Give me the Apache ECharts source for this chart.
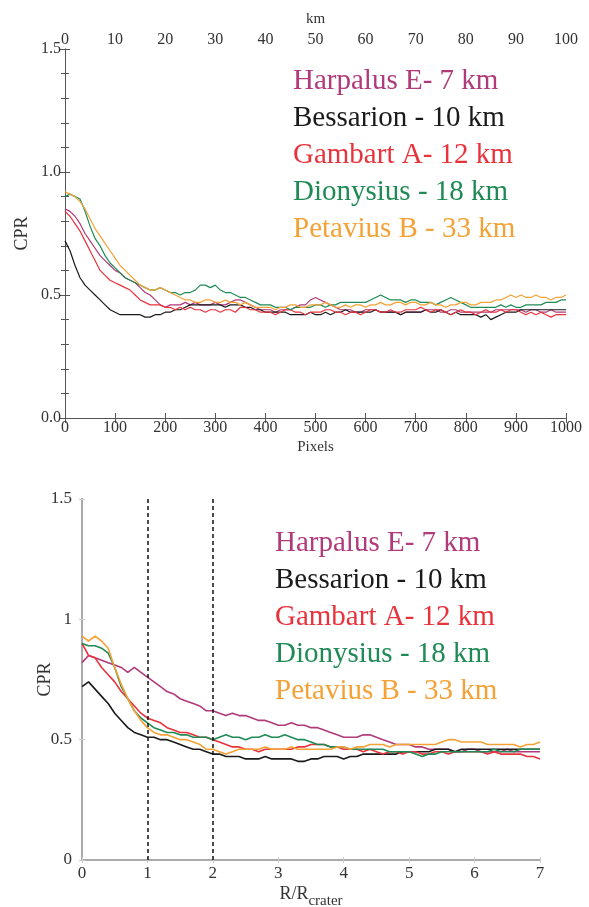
<!DOCTYPE html>
<html>
<head>
<meta charset="utf-8">
<script src="https://cdn.jsdelivr.net/npm/echarts@6/dist/echarts.min.js"></script>
<style>
  html, body { margin: 0; padding: 0; background: #fff; }
  #main { width: 589px; height: 907px; }
</style>
</head>
<body>
<div id="main"></div>
<script>
var craterNames = ['Harpalus E- 7 km', 'Bessarion - 10 km', 'Gambart A- 12 km', 'Dionysius - 18 km', 'Petavius B - 33 km'];
var craterColors = ['#b03a7a', '#1a1a1a', '#e8333c', '#1f8a55', '#f4a236'];

// top panel: distance in pixels
var pixelX = [0, 10, 20, 30, 40, 50, 60, 70, 80, 90,
  100, 110, 120, 130, 140, 150, 160, 170, 180, 190,
  200, 210, 220, 230, 240, 250, 260, 270, 280, 290,
  300, 310, 320, 330, 340, 350, 360, 370, 380, 390,
  400, 410, 420, 430, 440, 450, 460, 470, 480, 490,
  500, 510, 520, 530, 540, 550, 560, 570, 580, 590,
  600, 610, 620, 630, 640, 650, 660, 670, 680, 690,
  700, 710, 720, 730, 740, 750, 760, 770, 780, 790,
  800, 810, 820, 830, 840, 850, 860, 870, 880, 890,
  900, 910, 920, 930, 940, 950, 960, 970, 980, 990, 1000];

var harpalusPx = [0.85, 0.84, 0.82, 0.79, 0.75, 0.72, 0.69, 0.66, 0.64, 0.62,
  0.60, 0.59, 0.57, 0.56, 0.55, 0.53, 0.51, 0.50, 0.48, 0.46,
  0.45, 0.46, 0.46, 0.46, 0.47, 0.46, 0.47, 0.46, 0.46, 0.46,
  0.47, 0.46, 0.46, 0.47, 0.48, 0.48, 0.47, 0.46, 0.45, 0.44,
  0.44, 0.44, 0.43, 0.44, 0.44, 0.44, 0.45, 0.46, 0.46, 0.48,
  0.49, 0.48, 0.47, 0.46, 0.45, 0.44, 0.44, 0.44, 0.43, 0.43,
  0.44, 0.44, 0.44, 0.43, 0.43, 0.43, 0.43, 0.42, 0.43, 0.43,
  0.43, 0.43, 0.44, 0.44, 0.44, 0.43, 0.43, 0.44, 0.44, 0.43,
  0.43, 0.43, 0.43, 0.43, 0.43, 0.43, 0.44, 0.44, 0.44, 0.44,
  0.44, 0.44, 0.43, 0.44, 0.44, 0.43, 0.43, 0.44, 0.43, 0.43, 0.43];
var bessarionPx = [0.72, 0.68, 0.62, 0.57, 0.54, 0.52, 0.50, 0.48, 0.46, 0.44,
  0.43, 0.42, 0.42, 0.42, 0.42, 0.42, 0.41, 0.41, 0.42, 0.42,
  0.43, 0.43, 0.44, 0.44, 0.45, 0.46, 0.46, 0.46, 0.46, 0.46,
  0.46, 0.46, 0.45, 0.46, 0.46, 0.46, 0.45, 0.45, 0.44, 0.44,
  0.43, 0.43, 0.43, 0.43, 0.43, 0.42, 0.42, 0.42, 0.42, 0.43,
  0.42, 0.42, 0.43, 0.42, 0.43, 0.43, 0.44, 0.43, 0.43, 0.43,
  0.43, 0.43, 0.44, 0.43, 0.43, 0.43, 0.43, 0.42, 0.43, 0.43,
  0.43, 0.43, 0.44, 0.43, 0.43, 0.44, 0.43, 0.42, 0.43, 0.42,
  0.42, 0.42, 0.42, 0.41, 0.42, 0.40, 0.41, 0.42, 0.43, 0.43,
  0.43, 0.44, 0.44, 0.44, 0.44, 0.44, 0.44, 0.44, 0.44, 0.44, 0.44];
var gambartPx = [0.84, 0.82, 0.79, 0.76, 0.72, 0.68, 0.64, 0.60, 0.58, 0.56,
  0.55, 0.54, 0.53, 0.52, 0.50, 0.48, 0.47, 0.46, 0.46, 0.46,
  0.45, 0.45, 0.44, 0.45, 0.44, 0.45, 0.44, 0.44, 0.43, 0.44,
  0.44, 0.43, 0.44, 0.44, 0.43, 0.45, 0.45, 0.44, 0.44, 0.43,
  0.43, 0.43, 0.42, 0.43, 0.44, 0.44, 0.43, 0.43, 0.42, 0.43,
  0.43, 0.43, 0.44, 0.44, 0.43, 0.43, 0.42, 0.43, 0.43, 0.42,
  0.43, 0.44, 0.44, 0.43, 0.43, 0.44, 0.43, 0.43, 0.44, 0.44,
  0.44, 0.45, 0.44, 0.43, 0.44, 0.44, 0.43, 0.42, 0.43, 0.44,
  0.43, 0.43, 0.42, 0.43, 0.44, 0.43, 0.43, 0.44, 0.43, 0.44,
  0.44, 0.43, 0.42, 0.43, 0.42, 0.43, 0.42, 0.41, 0.42, 0.42, 0.42];
var dionysiusPx = [0.90, 0.91, 0.90, 0.89, 0.84, 0.78, 0.73, 0.70, 0.66, 0.63,
  0.61, 0.59, 0.57, 0.56, 0.55, 0.54, 0.53, 0.52, 0.52, 0.53,
  0.52, 0.51, 0.51, 0.50, 0.51, 0.51, 0.52, 0.54, 0.54, 0.53,
  0.54, 0.52, 0.51, 0.51, 0.50, 0.49, 0.49, 0.48, 0.47, 0.46,
  0.46, 0.46, 0.45, 0.45, 0.45, 0.44, 0.45, 0.45, 0.45, 0.45,
  0.46, 0.46, 0.45, 0.46, 0.46, 0.47, 0.47, 0.47, 0.47, 0.47,
  0.47, 0.48, 0.49, 0.50, 0.49, 0.48, 0.48, 0.48, 0.47, 0.48,
  0.48, 0.47, 0.47, 0.47, 0.46, 0.47, 0.48, 0.49, 0.48, 0.47,
  0.46, 0.45, 0.45, 0.45, 0.45, 0.45, 0.45, 0.46, 0.45, 0.46,
  0.45, 0.45, 0.46, 0.46, 0.46, 0.46, 0.47, 0.47, 0.47, 0.48, 0.48];
var petaviusPx = [0.92, 0.91, 0.90, 0.88, 0.85, 0.81, 0.77, 0.74, 0.71, 0.68,
  0.65, 0.62, 0.60, 0.58, 0.56, 0.54, 0.53, 0.52, 0.52, 0.53,
  0.52, 0.51, 0.50, 0.49, 0.48, 0.48, 0.47, 0.47, 0.48, 0.48,
  0.47, 0.47, 0.48, 0.47, 0.47, 0.46, 0.47, 0.46, 0.45, 0.45,
  0.45, 0.45, 0.44, 0.45, 0.45, 0.46, 0.46, 0.45, 0.45, 0.46,
  0.46, 0.46, 0.47, 0.46, 0.45, 0.45, 0.46, 0.45, 0.46, 0.46,
  0.45, 0.46, 0.46, 0.47, 0.46, 0.46, 0.47, 0.47, 0.46, 0.47,
  0.47, 0.46, 0.46, 0.47, 0.46, 0.46, 0.45, 0.46, 0.46, 0.47,
  0.47, 0.46, 0.46, 0.47, 0.47, 0.47, 0.48, 0.48, 0.49, 0.50,
  0.49, 0.50, 0.49, 0.49, 0.50, 0.49, 0.49, 0.48, 0.49, 0.49, 0.50];

// bottom panel: distance normalised by crater radius
var ratioX = [0, 0.1, 0.2, 0.3, 0.4, 0.5, 0.6, 0.7, 0.8, 0.9,
  1.0, 1.1, 1.2, 1.3, 1.4, 1.5, 1.6, 1.7, 1.8, 1.9,
  2.0, 2.1, 2.2, 2.3, 2.4, 2.5, 2.6, 2.7, 2.8, 2.9,
  3.0, 3.1, 3.2, 3.3, 3.4, 3.5, 3.6, 3.7, 3.8, 3.9,
  4.0, 4.1, 4.2, 4.3, 4.4, 4.5, 4.6, 4.7, 4.8, 4.9,
  5.0, 5.1, 5.2, 5.3, 5.4, 5.5, 5.6, 5.7, 5.8, 5.9,
  6.0, 6.1, 6.2, 6.3, 6.4, 6.5, 6.6, 6.7, 6.8, 6.9, 7.0];

var harpalusR = [0.82, 0.85, 0.84, 0.83, 0.82, 0.81, 0.80, 0.78, 0.80, 0.78,
  0.76, 0.74, 0.72, 0.70, 0.69, 0.67, 0.66, 0.65, 0.64, 0.62,
  0.62, 0.61, 0.60, 0.61, 0.60, 0.60, 0.59, 0.58, 0.58, 0.57,
  0.56, 0.56, 0.57, 0.56, 0.56, 0.55, 0.55, 0.54, 0.53, 0.52,
  0.51, 0.51, 0.51, 0.52, 0.52, 0.51, 0.50, 0.49, 0.48, 0.48,
  0.48, 0.47, 0.47, 0.46, 0.46, 0.46, 0.46, 0.45, 0.45, 0.46,
  0.46, 0.45, 0.45, 0.45, 0.45, 0.46, 0.45, 0.45, 0.45, 0.45, 0.45];
var bessarionR = [0.72, 0.74, 0.71, 0.68, 0.65, 0.61, 0.58, 0.55, 0.53, 0.52,
  0.51, 0.51, 0.50, 0.50, 0.49, 0.48, 0.47, 0.46, 0.46, 0.45,
  0.44, 0.44, 0.43, 0.43, 0.43, 0.42, 0.42, 0.42, 0.43, 0.42,
  0.42, 0.42, 0.42, 0.41, 0.41, 0.42, 0.42, 0.43, 0.43, 0.43,
  0.42, 0.43, 0.43, 0.44, 0.44, 0.44, 0.44, 0.44, 0.44, 0.45,
  0.45, 0.45, 0.45, 0.45, 0.46, 0.46, 0.46, 0.45, 0.46, 0.46,
  0.46, 0.46, 0.46, 0.46, 0.46, 0.46, 0.46, 0.46, 0.46, 0.46, 0.46];
var gambartR = [0.90, 0.85, 0.84, 0.80, 0.77, 0.74, 0.70, 0.67, 0.64, 0.61,
  0.59, 0.58, 0.57, 0.55, 0.54, 0.53, 0.53, 0.52, 0.51, 0.51,
  0.50, 0.49, 0.48, 0.47, 0.47, 0.46, 0.46, 0.45, 0.46, 0.46,
  0.46, 0.46, 0.46, 0.47, 0.47, 0.48, 0.48, 0.48, 0.47, 0.47,
  0.46, 0.46, 0.46, 0.45, 0.46, 0.45, 0.44, 0.45, 0.45, 0.44,
  0.45, 0.45, 0.44, 0.44, 0.45, 0.45, 0.44, 0.45, 0.45, 0.45,
  0.45, 0.45, 0.44, 0.45, 0.44, 0.44, 0.44, 0.44, 0.43, 0.43, 0.42];
var dionysiusR = [0.90, 0.89, 0.89, 0.88, 0.86, 0.80, 0.72, 0.67, 0.62, 0.59,
  0.57, 0.55, 0.54, 0.53, 0.53, 0.52, 0.52, 0.51, 0.51, 0.51,
  0.50, 0.51, 0.52, 0.51, 0.51, 0.50, 0.51, 0.51, 0.52, 0.51,
  0.51, 0.52, 0.51, 0.50, 0.50, 0.49, 0.48, 0.48, 0.47, 0.47,
  0.47, 0.46, 0.46, 0.46, 0.46, 0.46, 0.46, 0.45, 0.45, 0.45,
  0.45, 0.44, 0.43, 0.44, 0.44, 0.45, 0.45, 0.45, 0.45, 0.45,
  0.45, 0.45, 0.45, 0.46, 0.45, 0.45, 0.45, 0.46, 0.46, 0.46, 0.46];
var petaviusR = [0.93, 0.91, 0.93, 0.91, 0.88, 0.80, 0.73, 0.67, 0.62, 0.58,
  0.55, 0.53, 0.52, 0.52, 0.51, 0.50, 0.50, 0.49, 0.48, 0.46,
  0.46, 0.45, 0.44, 0.45, 0.46, 0.46, 0.46, 0.46, 0.47, 0.46,
  0.46, 0.46, 0.47, 0.46, 0.46, 0.46, 0.46, 0.46, 0.46, 0.47,
  0.47, 0.46, 0.47, 0.47, 0.48, 0.48, 0.48, 0.47, 0.48, 0.48,
  0.48, 0.48, 0.48, 0.48, 0.48, 0.49, 0.50, 0.50, 0.49, 0.49,
  0.49, 0.49, 0.48, 0.48, 0.48, 0.48, 0.48, 0.47, 0.48, 0.48, 0.49];

var kmRange = [0, 100];
var pixelRange = [0, 1000];
var ratioRange = [0, 7];
var cprRange = [0, 1.5];
var craterRadiusMarks = [1, 2];

var serif = 'Liberation Serif';
var topSeriesData = [harpalusPx, bessarionPx, gambartPx, dionysiusPx, petaviusPx];
var bottomSeriesData = [harpalusR, bessarionR, gambartR, dionysiusR, petaviusR];

function zip(xs, ys) {
  var out = [];
  for (var i = 0; i < xs.length; i++) {
    out.push([xs[i], ys[i]]);
  }
  return out;
}

var series = [];
for (var i = 0; i < craterNames.length; i++) {
  series.push({
    name: craterNames[i],
    type: 'line',
    xAxisIndex: 0,
    yAxisIndex: 0,
    showSymbol: false,
    lineStyle: { width: 1.2, color: craterColors[i] },
    itemStyle: { color: craterColors[i] },
    data: zip(pixelX, topSeriesData[i])
  });
}
for (var j = 0; j < craterNames.length; j++) {
  var s = {
    name: craterNames[j],
    type: 'line',
    xAxisIndex: 2,
    yAxisIndex: 2,
    showSymbol: false,
    lineStyle: { width: 1.6, color: craterColors[j] },
    itemStyle: { color: craterColors[j] },
    data: zip(ratioX, bottomSeriesData[j])
  };
  if (j == 0) {
    // R = 1 and R = 2 crater radii
    s.markLine = {
      silent: true,
      symbol: ['none', 'none'],
      label: { show: false },
      lineStyle: { type: [4, 3], color: '#111', width: 1.5 },
      data: craterRadiusMarks.map(function (v) { return { xAxis: v }; })
    };
  }
  series.push(s);
}

function legendData() {
  return craterNames.map(function (n, k) {
    return { name: n, textStyle: { color: craterColors[k] } };
  });
}

function plain(v) {
  return String(v);
}

var topAxisLine = { show: true, lineStyle: { color: '#555', width: 1 } };
var botAxisLine = { show: true, lineStyle: { color: '#aaa', width: 2 } };
var topTick = { inside: true, length: 5, lineStyle: { color: '#555' } };
var topMinor = { show: true, splitNumber: 5, length: 4, lineStyle: { color: '#555' } };
var botTick = { inside: true, length: 3, lineStyle: { color: '#ccc' } };
var topLabel = { fontFamily: serif, fontSize: 16, color: '#333' };
var botLabel = { fontFamily: serif, fontSize: 17, color: '#333' };

var option = {
  animation: false,
  backgroundColor: '#fff',
  grid: [
    { left: 65, top: 49, width: 501, height: 369, outerBoundsMode: 'none' },
    { left: 82, top: 499, width: 458, height: 361, outerBoundsMode: 'none' }
  ],
  legend: [
    {
      orient: 'vertical', left: 283, top: 62, icon: 'none', itemWidth: 0,
      itemGap: 8, selectedMode: false,
      textStyle: { fontFamily: serif, fontSize: 29 },
      data: legendData()
    },
    {
      orient: 'vertical', left: 265, top: 524, icon: 'none', itemWidth: 0,
      itemGap: 8, selectedMode: false,
      textStyle: { fontFamily: serif, fontSize: 29 },
      data: legendData()
    }
  ],
  xAxis: [
    {
      gridIndex: 0, type: 'value', position: 'bottom',
      min: pixelRange[0], max: pixelRange[1], interval: 100,
      name: 'Pixels', nameLocation: 'middle', nameGap: 22,
      nameTextStyle: { fontFamily: serif, fontSize: 15, color: '#333' },
      axisLine: topAxisLine,
      axisTick: topTick,
      axisLabel: Object.assign({ margin: 2, formatter: plain }, topLabel),
      splitLine: { show: false }
    },
    {
      gridIndex: 0, type: 'value', position: 'top',
      min: kmRange[0], max: kmRange[1], interval: 10,
      name: 'km', nameLocation: 'middle', nameGap: 22,
      nameTextStyle: { fontFamily: serif, fontSize: 15, color: '#333' },
      axisLine: topAxisLine,
      axisTick: topTick,
      axisLabel: Object.assign({ margin: 1, formatter: plain }, topLabel),
      splitLine: { show: false }
    },
    {
      gridIndex: 1, type: 'value', position: 'bottom',
      min: ratioRange[0], max: ratioRange[1], interval: 1,
      name: '{a|R/R}{b|crater}', nameLocation: 'middle', nameGap: 25,
      nameTextStyle: {
        rich: {
          a: { fontFamily: serif, fontSize: 18, color: '#333', verticalAlign: 'top', lineHeight: 24 },
          b: { fontFamily: serif, fontSize: 15, color: '#333', verticalAlign: 'bottom', lineHeight: 24 }
        }
      },
      axisLine: botAxisLine,
      axisTick: botTick,
      axisLabel: Object.assign({ margin: 5 }, botLabel),
      splitLine: { show: false }
    },
    {
      gridIndex: 1, type: 'value', position: 'top',
      min: ratioRange[0], max: ratioRange[1], interval: 1,
      axisLine: botAxisLine,
      axisTick: botTick,
      axisLabel: { show: false },
      splitLine: { show: false }
    }
  ],
  yAxis: [
    {
      gridIndex: 0, type: 'value', position: 'left',
      min: cprRange[0], max: cprRange[1], interval: 0.5,
      name: 'CPR', nameLocation: 'middle', nameGap: 34, nameMoveOverlap: false,
      nameTextStyle: { fontFamily: serif, fontSize: 18, color: '#333' },
      axisLine: topAxisLine,
      axisTick: topTick,
      minorTick: topMinor,
      axisLabel: Object.assign({ margin: 4, formatter: function (v) { return v.toFixed(1); } }, topLabel),
      splitLine: { show: false }
    },
    {
      gridIndex: 0, type: 'value', position: 'right',
      min: cprRange[0], max: cprRange[1], interval: 0.5,
      axisLine: topAxisLine,
      axisTick: topTick,
      minorTick: topMinor,
      axisLabel: { show: false },
      splitLine: { show: false }
    },
    {
      gridIndex: 1, type: 'value', position: 'left',
      min: cprRange[0], max: cprRange[1], interval: 0.5,
      name: 'CPR', nameLocation: 'middle', nameGap: 28, nameMoveOverlap: false,
      nameTextStyle: { fontFamily: serif, fontSize: 18, color: '#333' },
      axisLine: botAxisLine,
      axisTick: botTick,
      axisLabel: Object.assign({ margin: 10 }, botLabel),
      splitLine: { show: false }
    },
    {
      gridIndex: 1, type: 'value', position: 'right',
      min: cprRange[0], max: cprRange[1], interval: 0.5,
      axisLine: botAxisLine,
      axisTick: botTick,
      axisLabel: { show: false },
      splitLine: { show: false }
    }
  ],
  series: series
};

var chart = echarts.init(document.getElementById('main'), null, { renderer: 'canvas' });
chart.setOption(option);
</script>
</body>
</html>
